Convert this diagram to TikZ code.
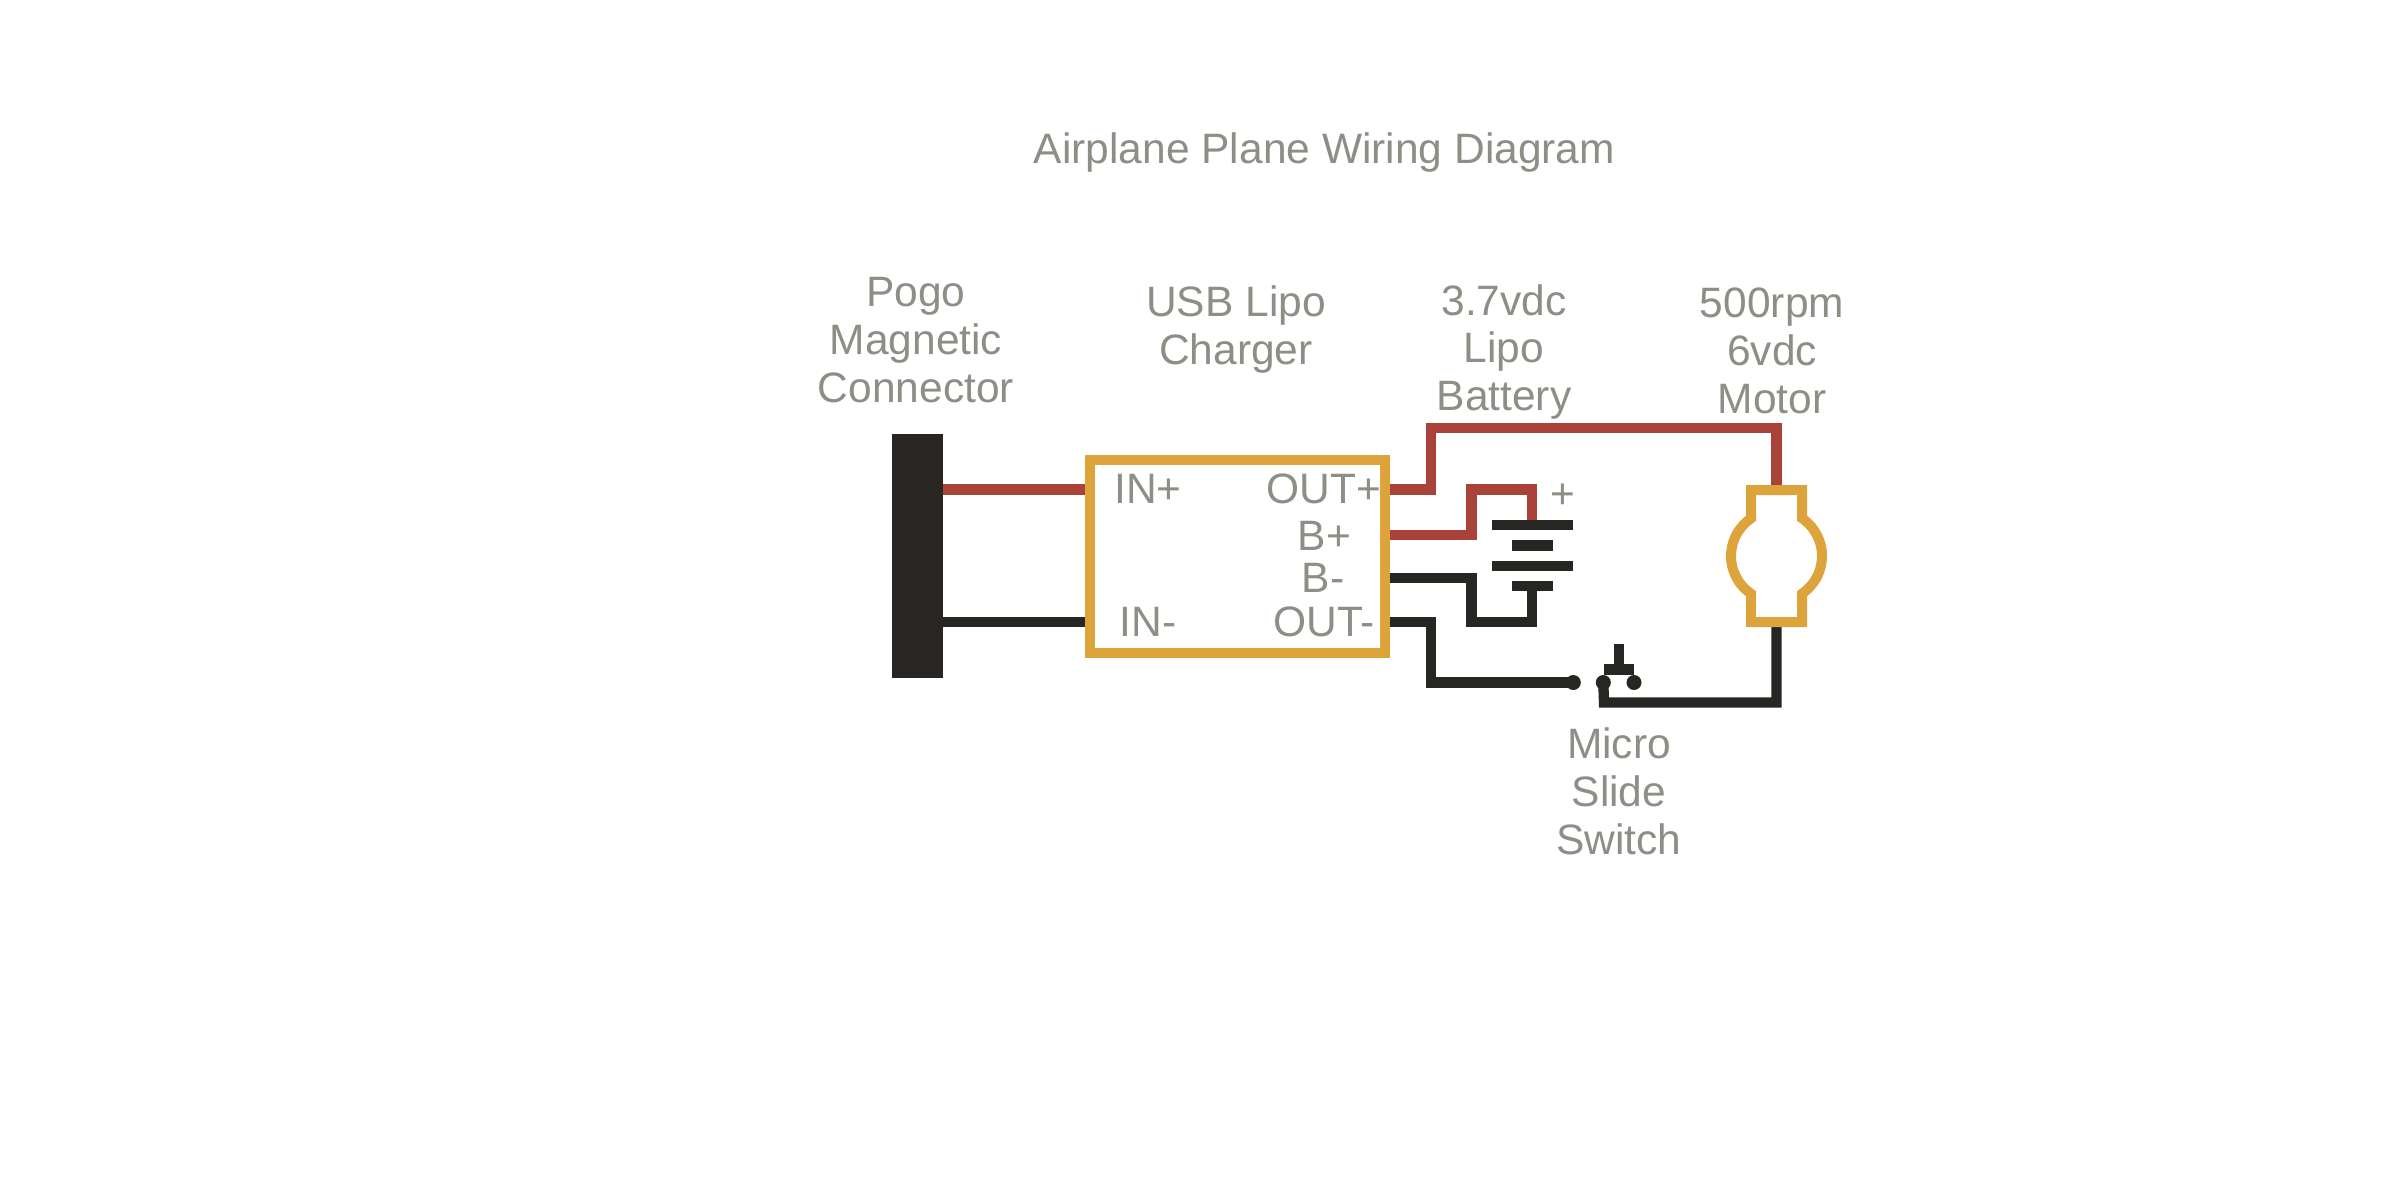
\documentclass[tikz,border=0pt]{standalone}
\usepackage{fontspec}
\setmainfont{Liberation Sans}
\definecolor{wred}{HTML}{A94238}
\definecolor{wblack}{HTML}{272622}
\definecolor{worange}{HTML}{DDA43C}
\definecolor{wgray}{HTML}{8F8E86}
\tikzset{
  x=1pt,y=1pt,
  wire/.style={line width=10.3pt,miter limit=10},
  redwire/.style={wire,draw=wred},
  blackwire/.style={wire,draw=wblack},
  plate/.style={fill=wblack,inner sep=0pt,outer sep=0pt,minimum height=10.5pt},
  longplate/.style={plate,minimum width=81pt},
  shortplate/.style={plate,minimum width=41pt},
  pinlabel/.style={text=wgray,font=\fontsize{42.5}{47.8}\selectfont,inner sep=0pt,anchor=base},
  title/.style={pinlabel,anchor=center,align=center},
  contact/.style={circle,fill=wblack,inner sep=0pt,outer sep=0pt,minimum size=15pt},
}
\begin{document}
\begin{tikzpicture}
\useasboundingbox (0,0) rectangle (2400,-1184);
\fill[white] (0,0) rectangle (2400,-1184);

\node[title] (heading) at (1324.5,-152.5) {Airplane Plane Wiring Diagram};
\node[title] (pogolabel) at (916,-340) {Pogo\\Magnetic\\Connector};
\node[title] (chargerlabel) at (1236,-329.5) {USB Lipo\\Charger};
\node[title] (batterylabel) at (1504,-352) {3.7vdc\\Lipo\\Battery};
\node[title] (motorlabel) at (1772,-351) {500rpm\\6vdc\\Motor};
\node[title] (switchlabel) at (1619,-791) {Micro\\Slide\\Switch};

\node[fill=wblack,inner sep=0pt,outer sep=0pt,minimum width=51pt,minimum height=244pt] (pogo) at (917.5,-555.5) {};
\node[draw=worange,line width=10pt,inner sep=0pt,minimum width=295pt,minimum height=193pt] (charger) at (1237.5,-556) {};

\node[pinlabel] (inp) at (1148,-503) {IN+};
\node[pinlabel] (outp) at (1324,-503.5) {OUT+};
\node[pinlabel] (bp) at (1324.5,-550.5) {B+};
\node[pinlabel] (bm) at (1323,-592.5) {B-};
\node[pinlabel] (inm) at (1148,-636) {IN-};
\node[pinlabel] (outm) at (1324,-636) {OUT-};
\node[pinlabel] (plus) at (1563,-508.5) {+};

\node[longplate] (c1) at (1532.5,-525) {};
\node[shortplate] (c2) at (1532.5,-545.5) {};
\node[longplate] (c3) at (1532.5,-566) {};
\node[shortplate] (c4) at (1532.5,-586) {};

\node[contact] (s1) at (1573.3,-682.5) {};
\node[contact] (s2) at (1603.3,-682.5) {};
\node[contact] (s3) at (1634,-682.5) {};
\node[fill=wblack,inner sep=0pt,outer sep=0pt,minimum width=30.5pt,minimum height=10.5pt] (bar) at (1619,-669.5) {};
\coordinate (stemtop) at (1619,-644);

\coordinate (motortop) at (1776.5,-485);
\coordinate (motorbot) at (1776.5,-627);
\coordinate (ya) at (0,-489.5);
\coordinate (yb) at (0,-535);
\coordinate (yc) at (0,-578);
\coordinate (yd) at (0,-622);

\draw[redwire] (pogo.east|-ya) -- (charger.west|-ya);
\draw[blackwire] (pogo.east|-yd) -- (charger.west|-yd);
\draw[redwire] (charger.east|-ya) -- (1431,-489.5) -- (1431,-428) -- (1776.5,-428) -- (motortop);
\draw[redwire] (charger.east|-yb) -- (1471.5,-535) -- (1471.5,-489.5) -- (1532,-489.5) -- (c1.north-|1532,0);
\draw[blackwire] (charger.east|-yc) -- (1471.5,-578) -- (1471.5,-622) -- (1532,-622) -- (c4.south-|1532,0);
\draw[blackwire] (charger.east|-yd) -- (1431,-622) -- (1431,-682.5) -- (s1.center);
\draw[blackwire] (s2.center) -- (1604,-702.5) -- (1776.5,-702.5) -- (motorbot);
\draw[wire,draw=wblack] (bar.north) -- (stemtop);

\draw[wire,draw=worange,line width=10pt,miter limit=10] (1751,-490) -- (1802,-490) -- (1802,-518.3)
  arc[start angle=55.9,end angle=-55.9,radius=45.5]
  -- (1802,-622) -- (1751,-622) -- (1751,-593.7)
  arc[start angle=235.9,end angle=124.1,radius=45.5] -- cycle;
\end{tikzpicture}
\end{document}
